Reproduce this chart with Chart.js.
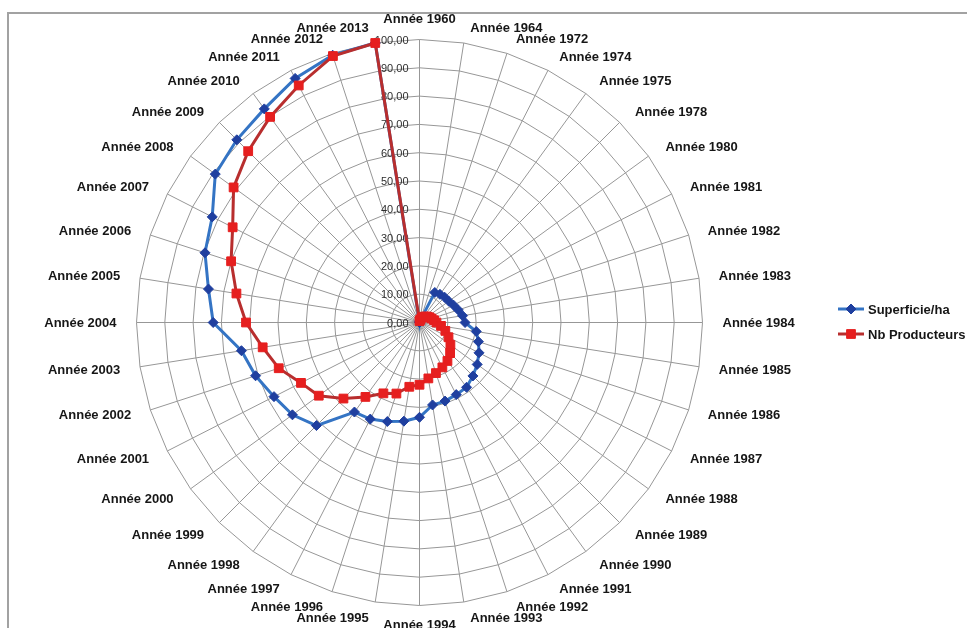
<!DOCTYPE html>
<html>
<head>
<meta charset="utf-8">
<script src="https://cdn.jsdelivr.net/npm/chart.js@4/dist/chart.umd.min.js"></script>
<style>
  html, body { margin: 0; padding: 0; background: #fff; overflow: hidden; }
  #wrap { position: relative; width: 967px; height: 628px; }
  #frame { position: absolute; left: 7px; top: 12px; width: 1200px; height: 900px;
           border-top: 2px solid #a2a2a2; border-left: 2px solid #a2a2a2; pointer-events: none; }
  canvas { position: absolute; left: 0; top: 0; }
</style>
</head>
<body>
<div id="wrap">
  <canvas id="c" width="967" height="628"></canvas>
  <div id="frame"></div>
</div>
<script>
// Years on the radial axes
const categories = ['Année 1960','Année 1964','Année 1972','Année 1974','Année 1975','Année 1978',
  'Année 1980','Année 1981','Année 1982','Année 1983','Année 1984','Année 1985','Année 1986',
  'Année 1987','Année 1988','Année 1989','Année 1990','Année 1991','Année 1992','Année 1993',
  'Année 1994','Année 1995','Année 1996','Année 1997','Année 1998','Année 1999','Année 2000',
  'Année 2001','Année 2002','Année 2003','Année 2004','Année 2005','Année 2006','Année 2007',
  'Année 2008','Année 2009','Année 2010','Année 2011','Année 2012','Année 2013'];

// Cumulative area (% of 2013 level)
const superficie = [0, 0.4, 0.7, 11.9, 12.3, 12.6, 12.8, 13.5, 14.4, 15.4, 16.1, 20.3, 21.9, 23.6,
  25.2, 26.7, 28.3, 28.6, 29.2, 29.5, 33.5, 35.3, 36.8, 38.3, 39.1, 51.5, 55.5, 57.7, 60.9, 63.7,
  72.9, 75.5, 79.7, 82.2, 89.2, 91.3, 93.3, 96.8, 99.3, 100];

// Cumulative number of growers (% of 2013 level)
const producteurs = [0.5, 0.8, 1.2, 2, 2.5, 3, 3.5, 4, 4.5, 5.2, 6, 7.7, 9.6, 11.5, 13.5, 15.3,
  16.8, 17.8, 18.8, 20, 22, 23, 26.4, 28.1, 32.5, 38, 44, 47, 52.3, 56.1, 61.3, 65.5, 70, 74.1,
  81.2, 85.6, 89.8, 94, 99, 100];

const seriesNames = ['Superficie/ha', 'Nb Producteurs'];
const tickValues = [0, 10, 20, 30, 40, 50, 60, 70, 80, 90, 100];

const FONT = '"Liberation Sans", Arial, sans-serif';
const BLUE_LINE = '#3474c4', BLUE_MARK = '#1f3f9f';
const RED_LINE = '#b82e2e', RED_MARK = '#e61f1f';

const fmt = v => v.toFixed(2).replace('.', ',');

// Place the polar area on the page
function placeScale(scale) {
  scale.xCenter = 419.5;
  scale.yCenter = 322.5;
  scale.drawingArea = 283;
}

// Tick values written on the left of the vertical axis
const tickLabels = {
  id: 'tickLabels',
  beforeDatasetsDraw(chart) {
    const s = chart.scales.r, ctx = chart.ctx;
    ctx.save();
    ctx.font = '11px ' + FONT;
    ctx.fillStyle = '#2e2e2e';
    ctx.textAlign = 'right';
    ctx.textBaseline = 'middle';
    tickValues.forEach(v => {
      const p = s.getPointPosition(0, s.getDistanceFromCenterForValue(v));
      ctx.fillText(fmt(v), p.x - 11, p.y + 1);
    });
    ctx.restore();
  }
};

// Category names around the outer ring
const pointNames = {
  id: 'pointNames',
  afterDraw(chart) {
    const s = chart.scales.r, ctx = chart.ctx;
    const labels = chart.data.labels;
    ctx.save();
    ctx.font = 'bold 13px ' + FONT;
    ctx.fillStyle = '#161616';
    ctx.textBaseline = 'middle';
    labels.forEach((lab, i) => {
      const p = s.getPointPosition(i, s.drawingArea + 16);
      const deg = (i * 360 / labels.length) % 360;
      if (deg === 0) { ctx.textAlign = 'center'; ctx.fillText(lab, p.x, p.y - 4); }
      else if (deg === 180) { ctx.textAlign = 'center'; ctx.fillText(lab, p.x, p.y + 4); }
      else if (deg < 180) { ctx.textAlign = 'left'; ctx.fillText(lab, p.x + 4, p.y + 1); }
      else { ctx.textAlign = 'right'; ctx.fillText(lab, p.x - 4, p.y + 1); }
    });
    ctx.restore();
  }
};

// Legend on the right: line sample with its marker, then the series name
const sideLegend = {
  id: 'sideLegend',
  afterDraw(chart) {
    const ctx = chart.ctx;
    const x0 = 838, x1 = 864, tx = 868;
    const ys = [309, 334];
    ctx.save();
    chart.data.datasets.forEach((d, k) => {
      const y = ys[k];
      ctx.strokeStyle = d.borderColor;
      ctx.lineWidth = 3;
      ctx.beginPath(); ctx.moveTo(x0, y); ctx.lineTo(x1, y); ctx.stroke();
      ctx.fillStyle = d.pointBackgroundColor;
      ctx.strokeStyle = d.pointBorderColor;
      ctx.lineWidth = 1;
      Chart.helpers.drawPoint(ctx, {pointStyle: d.pointStyle, radius: d.pointRadius, borderWidth: 1, rotation: 0}, (x0 + x1) / 2, y);
      ctx.font = 'bold 13px ' + FONT;
      ctx.fillStyle = '#161616';
      ctx.textAlign = 'left';
      ctx.textBaseline = 'middle';
      ctx.fillText(d.label, tx, y + 1);
    });
    ctx.restore();
  }
};

new Chart(document.getElementById('c'), {
  type: 'radar',
  data: {
    labels: categories,
    datasets: [
      {
        label: seriesNames[0],
        data: superficie,
        order: 1,
        borderColor: BLUE_LINE,
        borderWidth: 3,
        pointStyle: 'rectRot',
        pointRadius: 5,
        pointBackgroundColor: BLUE_MARK,
        pointBorderColor: BLUE_MARK,
        pointBorderWidth: 1,
        fill: false,
        tension: 0
      },
      {
        label: seriesNames[1],
        data: producteurs,
        order: 0,
        borderColor: RED_LINE,
        borderWidth: 3,
        pointStyle: 'rect',
        pointRadius: 6.2,
        pointBackgroundColor: RED_MARK,
        pointBorderColor: RED_MARK,
        pointBorderWidth: 1,
        fill: false,
        tension: 0
      }
    ]
  },
  options: {
    responsive: false,
    animation: false,
    devicePixelRatio: 1,
    plugins: { legend: { display: false }, tooltip: { enabled: false } },
    scales: {
      r: {
        min: 0,
        max: 100,
        ticks: { stepSize: 10, display: false },
        pointLabels: { display: false },
        grid: { color: '#979797', lineWidth: 1 },
        angleLines: { color: '#979797', lineWidth: 1 },
        afterFit: placeScale
      }
    }
  },
  plugins: [tickLabels, pointNames, sideLegend]
});
</script>
</body>
</html>
